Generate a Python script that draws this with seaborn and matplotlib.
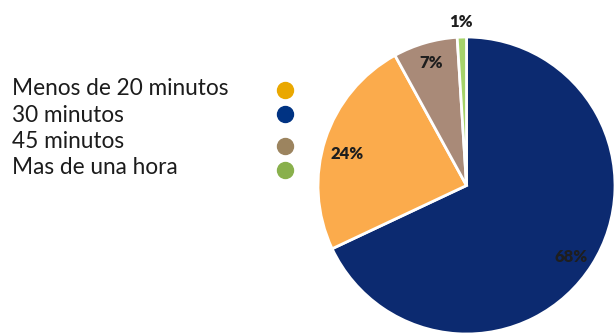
import numpy as np
import matplotlib
matplotlib.use("Agg")
import matplotlib.pyplot as plt
import seaborn as sns

# datos del gráfico
categorias = ["Menos de 20 minutos", "30 minutos", "45 minutos", "Mas de una hora"]
porcentajes = [24, 68, 7, 1]
# orden de los sectores en la torta (sentido horario desde arriba)
orden_torta = [1, 0, 2, 3]
colores_torta = ["#fbab4c", "#0c2a70", "#a98a78", "#a6d36a"]
colores_leyenda = ["#eaa800", "#003383", "#9c845f", "#89b04c"]
# posición de cada etiqueta: fracción del radio y ajuste de ángulo (grados)
dist_etiqueta = [0.83, 0.85, 0.86, 1.10]
ajuste_ang = [3, -2, 0, 0]

sns.set_theme(style="white")
plt.rcParams["font.family"] = ["Lato", "DejaVu Sans"]

W, H = 616, 334
fig = plt.figure(figsize=(W / 100, H / 100), dpi=100)

# torta: centro (466.5, 185.5) px, radio 148.5 px
cx, cy, r = 466.5, 185.5, 148.5
ax = fig.add_axes([(cx - r) / W, (H - cy - r) / H, 2 * r / W, 2 * r / H])
vals = [porcentajes[i] for i in orden_torta]
cols = [colores_torta[i] for i in orden_torta]
wedges, _ = ax.pie(vals, colors=cols, startangle=90, counterclock=False,
                   radius=1, wedgeprops=dict(edgecolor="white", linewidth=2))
for w, i in zip(wedges, orden_torta):
    ang = np.deg2rad((w.theta1 + w.theta2) / 2 + ajuste_ang[i])
    d = dist_etiqueta[i]
    ax.text(d * np.cos(ang), d * np.sin(ang), f"{porcentajes[i]}%",
            ha="center", va="center", fontsize=12, fontweight="heavy",
            color="#1e1e1e")
ax.set_xlim(-1, 1)
ax.set_ylim(-1, 1)
ax.set_aspect("equal")
ax.axis("off")

# leyenda manual: texto a la izquierda, punto a la derecha
y_texto = [88, 115, 142, 168]
y_punto = [90, 114, 146, 170]
for lab, c, yt, yp in zip(categorias, colores_leyenda, y_texto, y_punto):
    fig.text(12 / W, 1 - yt / H, lab, ha="left", va="center", fontsize=16.3,
             color="#1c1c1c")
    fig.add_artist(plt.Line2D([285 / W], [1 - yp / H],
                              marker="o", markersize=11.5, color=c,
                              linestyle="none", transform=fig.transFigure))

fig.savefig("out.png", dpi=100)
